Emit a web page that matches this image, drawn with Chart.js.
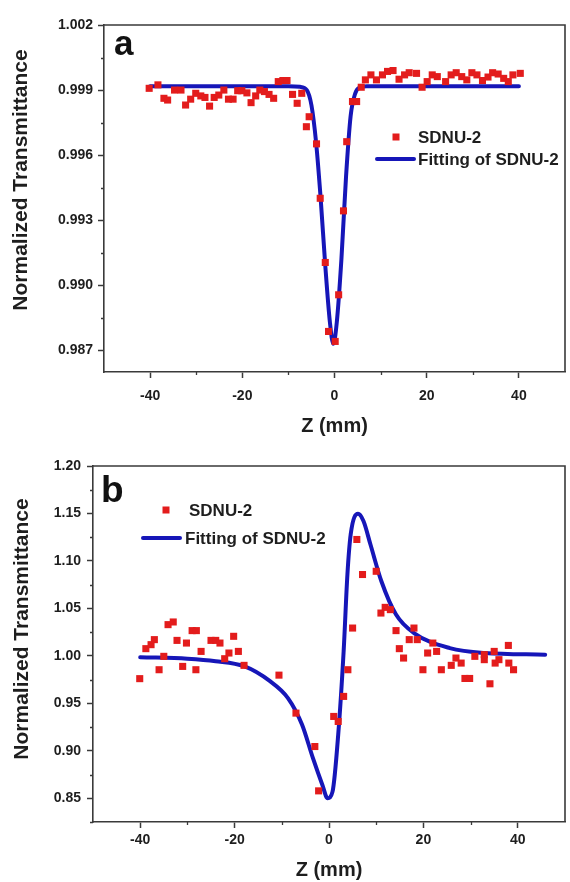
<!DOCTYPE html>
<html>
<head>
<meta charset="utf-8">
<title>SDNU-2 Z-scan</title>
<script src="https://cdn.jsdelivr.net/npm/chart.js@4.4.1/dist/chart.umd.min.js"></script>
<style>
    html, body { margin: 0; padding: 0; background: #ffffff; }
    #wrap { position: relative; width: 570px; height: 882px; }
    canvas { position: absolute; left: 0; }
    #chartA { top: 0; }
    #chartB { top: 441px; }
</style>
</head>
<body>
<div id="wrap">
    <canvas id="chartA" width="570" height="441"></canvas>
    <canvas id="chartB" width="570" height="441"></canvas>
</div>
<script>
// Panel (a) - open aperture, measured points
const zA = [-40.2, -38.3, -37.0, -36.2, -34.7, -33.3, -32.3, -31.2, -30.1, -29.0, -28.1, -27.1, -26.1, -25.1, -24.0,
    -23.0, -22.0, -21.0, -20.1, -19.0, -18.1, -17.1, -16.2, -15.2, -14.2, -13.2, -12.2, -11.2, -10.3, -9.1, -8.1,
    -7.1, -6.1, -5.5, -3.9, -3.1, -2.0, -1.3, 0.15, 0.9, 1.95, 2.65, 3.9, 4.8, 5.8, 6.7, 7.9, 9.1, 10.4, 11.5, 12.7,
    14.0, 15.2, 16.2, 17.8, 19.0, 20.1, 21.2, 22.3, 24.1, 25.3, 26.4, 27.6, 28.7, 29.8, 30.9, 32.1, 33.3, 34.3,
    35.5, 36.7, 37.7, 38.7, 40.3];
const tA = [0.99908, 0.99924, 0.99862, 0.99854, 0.99900, 0.99900, 0.99831, 0.99858, 0.99885, 0.99873, 0.99866, 0.99826,
    0.99866, 0.99877, 0.99900, 0.99858, 0.99858, 0.99897, 0.99897, 0.99887, 0.99842, 0.99873, 0.99900, 0.99893,
    0.99880, 0.99862, 0.99939, 0.99944, 0.99944, 0.99880, 0.99839, 0.99885, 0.99731, 0.99777, 0.99652, 0.99401,
    0.99105, 0.98787, 0.98741, 0.98956, 0.99343, 0.99662, 0.99847, 0.99847, 0.99913, 0.99947, 0.99970, 0.99947,
    0.99970, 0.99986, 0.99990, 0.99950, 0.99970, 0.99980, 0.99977, 0.99913, 0.99939, 0.99970, 0.99962, 0.99939,
    0.99970, 0.99980, 0.99962, 0.99947, 0.99980, 0.99970, 0.99944, 0.99960, 0.99980, 0.99974, 0.99954, 0.99939,
    0.99970, 0.99977];

// Panel (a) - fitted curve
const fitZA = [-40, -10, -7.5, -6, -5, -4, -3, -2, -1, -0.25, 0.5, 1.5, 2.5, 3.5, 4.5, 5.5, 7, 40];
const fitTA = [0.99918, 0.99918, 0.99915, 0.99900, 0.99830, 0.99660, 0.99400, 0.99090, 0.98830, 0.98730, 0.98830,
    0.99120, 0.99500, 0.99780, 0.99885, 0.99912, 0.99918, 0.99918];

// Panel (b) - closed aperture, measured points
const zB = [-40.1, -38.8, -37.7, -37.0, -36.0, -35.0, -34.1, -33.0, -32.2, -31.0, -30.2, -29.0, -28.1, -28.2, -27.1,
    -25.0, -24.0, -23.1, -22.1, -21.2, -20.2, -19.2, -18.0, -10.6, -7.0, -3.0, -2.2, 1.0, 1.95, 3.1, 4.0, 5.0, 5.9,
    7.1, 10.0, 11.0, 11.9, 13.0, 14.2, 14.9, 15.8, 17.0, 18.0, 18.7, 19.9, 20.9, 22.0, 22.8, 23.8, 25.9, 26.9,
    28.0, 28.8, 29.8, 30.9, 32.9, 32.9, 34.1, 35.0, 35.2, 36.0, 38.0, 38.1, 39.1];
const tB = [0.9760, 1.0076, 1.0118, 1.0171, 0.9854, 0.9995, 1.0329, 1.0357, 1.0163, 0.9889, 1.0135, 1.0266, 1.0266,
    0.9854, 1.0047, 1.0163, 1.0163, 1.0135, 0.9970, 1.0030, 1.0206, 1.0047, 0.9900, 0.9797, 0.9397, 0.9045, 0.8578,
    0.9362, 0.9309, 0.9573, 0.9854, 1.0293, 1.1226, 1.0857, 1.0891, 1.0451, 1.0511, 1.0487, 1.0266, 1.0076, 0.9977,
    1.0171, 1.0293, 1.0171, 0.9854, 1.0030, 1.0135, 1.0047, 0.9854, 0.9900, 0.9977, 0.9924, 0.9762, 0.9762, 0.9995,
    0.9960, 1.0013, 0.9706, 1.0047, 0.9924, 0.9960, 1.0110, 0.9924, 0.9854];

// Panel (b) - fitted curve
const fitZB = [-40, -30, -24, -18, -12.5, -8.7, -5.7, -3.4, -1.4, -0.3, 0.75, 1.95, 3.1, 3.9, 4.6, 6.15, 7.3, 8.8,
    11.1, 14.2, 18, 25.6, 33, 45.8];
const fitTB = [0.9986, 0.9970, 0.9944, 0.9891, 0.9733, 0.9555, 0.9274, 0.8922, 0.8640, 0.8500, 0.8570, 0.9169,
    1.0047, 1.0857, 1.1280, 1.1496, 1.1420, 1.1170, 1.0786, 1.0435, 1.0240, 1.0082, 1.0030, 1.0013];

// Tick values
const xTicks = [-40, -20, 0, 20, 40];
const xMinorTicks = [-30, -10, 10, 30];
const yTicksA = [0.987, 0.990, 0.993, 0.996, 0.999, 1.002];
const yMinorTicksA = [0.9885, 0.9915, 0.9945, 0.9975, 1.0005];
const yTicksB = [0.85, 0.90, 0.95, 1.00, 1.05, 1.10, 1.15, 1.20];
const yMinorTicksB = [0.825, 0.875, 0.925, 0.975, 1.025, 1.075, 1.125, 1.175];

const seriesLabels = ['SDNU-2', 'Fitting of SDNU-2'];

const RED = '#e31c1c';
const BLUE = '#1616b8';
const AXIS = '#3a3a3a';
const TEXT = '#1e1e1e';
const FONT = '"Liberation Sans", Arial, Helvetica, sans-serif';

Chart.defaults.font.family = FONT;

function toPoints(xs, ys) {
    return xs.map((x, i) => ({ x: x, y: ys[i] }));
}

// Frame, minor ticks, panel letter, legend and y title
const overlayPlugin = {
    id: 'overlay',
    afterDraw(chart, args, opts) {
        const ctx = chart.ctx;
        const area = chart.chartArea;
        const xs = chart.scales.x;
        const ys = chart.scales.y;
        ctx.save();

        // top and right border of the box
        ctx.strokeStyle = AXIS;
        ctx.lineWidth = 1.6;
        ctx.beginPath();
        ctx.moveTo(area.left, area.top);
        ctx.lineTo(area.right, area.top);
        ctx.lineTo(area.right, area.bottom);
        ctx.stroke();

        // minor ticks
        ctx.lineWidth = 1.3;
        ctx.beginPath();
        opts.xMinor.forEach(v => {
            const px = Math.round(xs.getPixelForValue(v)) + 0.5;
            ctx.moveTo(px, area.bottom);
            ctx.lineTo(px, area.bottom + 3);
        });
        opts.yMinor.forEach(v => {
            const py = Math.round(ys.getPixelForValue(v)) + 0.5;
            ctx.moveTo(area.left, py);
            ctx.lineTo(area.left - 3, py);
        });
        ctx.stroke();

        // panel letter
        ctx.fillStyle = '#111111';
        ctx.font = 'bold ' + opts.letterSize + 'px ' + FONT;
        ctx.textAlign = 'left';
        ctx.textBaseline = 'alphabetic';
        ctx.fillText(opts.letter, opts.letterX, opts.letterY);

        // legend
        const lg = opts.legend;
        ctx.font = 'bold 17px ' + FONT;
        ctx.textBaseline = 'middle';
        ctx.fillStyle = RED;
        ctx.fillRect(lg.markX - 3.5, lg.markY - 3.5, 7, 7);
        ctx.fillStyle = TEXT;
        ctx.fillText(seriesLabels[0], lg.textX0, lg.markY + 1);
        ctx.strokeStyle = BLUE;
        ctx.lineWidth = 4;
        ctx.lineCap = 'round';
        ctx.beginPath();
        ctx.moveTo(lg.lineX0, lg.lineY);
        ctx.lineTo(lg.lineX1, lg.lineY);
        ctx.stroke();
        ctx.fillStyle = TEXT;
        ctx.fillText(seriesLabels[1], lg.textX1, lg.lineY + 1);

        // y axis title
        ctx.translate(opts.yTitleX, opts.yTitleY);
        ctx.rotate(-Math.PI / 2);
        ctx.font = 'bold 21px ' + FONT;
        ctx.textAlign = 'center';
        ctx.textBaseline = 'middle';
        ctx.fillText('Normalized Transmittance', 0, 0);

        ctx.restore();
    }
};

function buildChart(canvasId, cfg) {
    const ctx = document.getElementById(canvasId);
    return new Chart(ctx, {
        type: 'scatter',
        data: {
            datasets: [{
                label: seriesLabels[0],
                data: toPoints(cfg.z, cfg.t),
                showLine: false,
                pointStyle: 'rect',
                pointRadius: 5,
                pointHoverRadius: 5,
                pointBorderWidth: 0,
                backgroundColor: RED,
                borderColor: RED
            }, {
                label: seriesLabels[1],
                data: toPoints(cfg.fitZ, cfg.fitT),
                showLine: true,
                pointRadius: 0,
                borderColor: BLUE,
                backgroundColor: BLUE,
                borderWidth: 4,
                borderCapStyle: 'round',
                cubicInterpolationMode: 'monotone'
            }]
        },
        options: {
            responsive: false,
            animation: false,
            devicePixelRatio: 1,
            layout: {
                padding: { top: 25, right: cfg.padRight, left: 0, bottom: 0 }
            },
            plugins: {
                legend: { display: false },
                tooltip: { enabled: false },
                overlay: cfg.overlay
            },
            scales: {
                x: {
                    type: 'linear',
                    min: -50,
                    max: 50,
                    afterBuildTicks: s => { s.ticks = xTicks.map(v => ({ value: v })); },
                    afterFit: s => { s.height = cfg.xAxisHeight; },
                    grid: {
                        display: true,
                        drawOnChartArea: false,
                        drawTicks: true,
                        tickLength: 6,
                        tickColor: AXIS,
                        tickWidth: 1.5
                    },
                    border: { display: true, color: AXIS, width: 1.6 },
                    ticks: {
                        color: TEXT,
                        padding: cfg.xTickPad,
                        maxRotation: 0,
                        font: { size: 14, weight: 'bold' },
                        callback: v => String(v)
                    },
                    title: {
                        display: true,
                        text: 'Z (mm)',
                        color: TEXT,
                        font: { size: 20, weight: 'bold' },
                        padding: { top: 0, bottom: cfg.xTitlePad }
                    }
                },
                y: {
                    type: 'linear',
                    min: cfg.yMin,
                    max: cfg.yMax,
                    afterBuildTicks: s => { s.ticks = cfg.yTicks.map(v => ({ value: v })); },
                    afterFit: s => { s.width = cfg.yAxisWidth; },
                    grid: {
                        display: true,
                        drawOnChartArea: false,
                        drawTicks: true,
                        tickLength: 6,
                        tickColor: AXIS,
                        tickWidth: 1.5
                    },
                    border: { display: true, color: AXIS, width: 1.6 },
                    ticks: {
                        color: TEXT,
                        padding: cfg.yTickPad,
                        font: { size: 14, weight: 'bold' },
                        callback: v => Number(v).toFixed(cfg.decimals)
                    }
                }
            }
        },
        plugins: [overlayPlugin]
    });
}

// Panel (a)
buildChart('chartA', {
    z: zA, t: tA, fitZ: fitZA, fitT: fitTA,
    yMin: 0.986, yMax: 1.002, yTicks: yTicksA, decimals: 3,
    yAxisWidth: 104, xAxisHeight: 69, padRight: 1,
    xTickPad: 10, yTickPad: 5, xTitlePad: 3,
    overlay: {
        xMinor: xMinorTicks, yMinor: yMinorTicksA,
        letter: 'a', letterSize: 35, letterX: 114, letterY: 55,
        yTitleX: 21, yTitleY: 180,
        legend: { markX: 396, markY: 137, textX0: 418, lineX0: 377, lineX1: 414, lineY: 159, textX1: 418 }
    }
});

// Panel (b)
buildChart('chartB', {
    z: zB, t: tB, fitZ: fitZB, fitT: fitTB,
    yMin: 0.825, yMax: 1.20, yTicks: yTicksB, decimals: 2,
    yAxisWidth: 93, xAxisHeight: 60, padRight: 0,
    xTickPad: 4, yTickPad: 6, xTitlePad: 0,
    overlay: {
        xMinor: xMinorTicks, yMinor: yMinorTicksB,
        letter: 'b', letterSize: 37, letterX: 101, letterY: 61,
        yTitleX: 22, yTitleY: 188,
        legend: { markX: 166, markY: 69, textX0: 189, lineX0: 143, lineX1: 180, lineY: 97, textX1: 185 }
    }
});
</script>
</body>
</html>
